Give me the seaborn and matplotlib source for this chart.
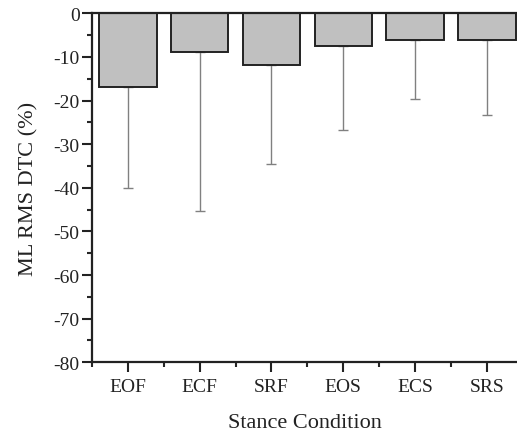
import matplotlib
matplotlib.use("Agg")
import matplotlib.pyplot as plt
import seaborn as sns
import numpy as np
from matplotlib.ticker import MultipleLocator, FixedLocator

categories = ["EOF", "ECF", "SRF", "EOS", "ECS", "SRS"]
means = [-17.0, -8.8, -11.8, -7.6, -6.0, -6.0]
sds = [23.1, 36.5, 22.8, 19.2, 13.6, 17.4]
yticks = [0, -10, -20, -30, -40, -50, -60, -70, -80]

sns.set_style("white")
plt.rcParams["font.family"] = ["Liberation Serif", "DejaVu Serif"]

fig = plt.figure(figsize=(5.17, 4.35), dpi=100)
ax = fig.add_axes([0.178, 0.165, 0.822, 0.802])

sns.barplot(x=categories, y=means, color="#c0c0c0", edgecolor="#222222",
            linewidth=1.4, width=0.8, saturation=1, ax=ax, zorder=2)

xs = np.arange(len(categories))
ax.errorbar(xs, means, yerr=[sds, np.zeros(len(sds))], fmt="none",
            ecolor="#808080", elinewidth=1.0, capsize=3.5, capthick=1.0, zorder=1)

ax.set_ylim(-80, 0)
ax.set_xlim(-0.5, 5.42)
ax.set_yticks(yticks)
ax.set_yticklabels([str(v) for v in yticks])
ax.yaxis.set_minor_locator(MultipleLocator(5))
ax.xaxis.set_minor_locator(FixedLocator(np.arange(-0.5, 5.6, 1.0)))

ax.tick_params(axis="both", which="major", direction="out", length=7, width=1.5,
               labelsize=14, colors="#222222", left=True, bottom=True)
ax.tick_params(axis="both", which="minor", direction="out", length=3.5, width=1.5,
               left=True, bottom=True)
ax.tick_params(axis="x", which="major", pad=4)
ax.tick_params(axis="y", which="major", pad=2)

for s in ax.spines.values():
    s.set_linewidth(1.6)
    s.set_color("#222222")
ax.spines["right"].set_visible(False)

ax.set_ylabel("ML RMS DTC (%)", fontsize=16, color="#222222", labelpad=11)
ax.set_xlabel("Stance Condition", fontsize=16, color="#222222", labelpad=13)

fig.savefig("out.png", dpi=100)
